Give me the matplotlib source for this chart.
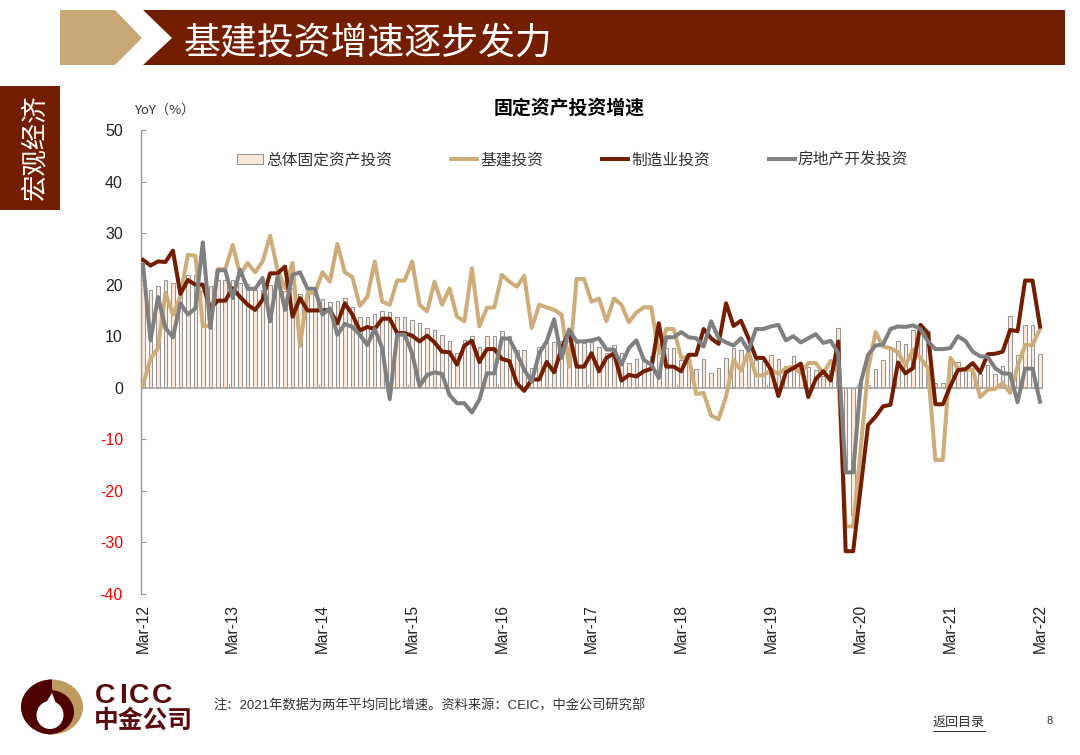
import matplotlib
matplotlib.use('Agg')
import matplotlib.pyplot as plt
from matplotlib.patches import Polygon, Rectangle, Ellipse

plt.rcParams['font.family'] = ['Liberation Sans', 'Noto Sans CJK SC', 'DejaVu Sans']
plt.rcParams['axes.unicode_minus'] = False

# Monthly series, Mar-12 to Mar-22
total_fai = [
    20.9, 18.9, 19.8, 20.9, 20.3, 19.7, 21.9, 21.9, 18.7, 19.7,
    21, 21, 20.9, 20.3, 20.2, 18.9, 19, 20, 19.7, 18.7,
    19.3, 18.2, 18, 17.9, 17.2, 16.6, 16.9, 17.4, 15.6, 13.7,
    13.7, 14.3, 14.9, 14.7, 13.7, 13.7, 13.2, 12.5, 11.5, 11.2,
    10.3, 9.1, 6.7, 9.3, 10, 7.9, 10.1, 10.1, 11.1, 10,
    7.4, 7.4, 3.8, 8, 8.8, 8.8, 9, 9, 8.7, 8.7,
    8.8, 8, 6.7, 8.3, 6.7, 4.8, 5.6, 5.1, 6.1, 6.7,
    7.7, 7.7, 5.4, 6, 3.6, 5.6, 2.8, 3.8, 5.8, 7.7,
    7.4, 7, 5.4, 5.1, 6.4, 5.6, 4.3, 6.2, 4.5, 4.1,
    3.5, 2.3, 3.5, 11.6, -16, -24.7, 0.9, 0.6, 3.7, 5.4,
    7.5, 9.1, 8.5, 11.3, 11.3, 11, 0.9, 0.9, 5.8, 5,
    3.2, 3.5, 2.7, 4.5, 2.7, 4.3, 14, 6.4, 12.1, 12.1, 6.5,
]
infrastructure = [
    0.6, 5.6, 7.7, 18.4, 14.2, 17.7, 25.8, 25.6, 12, 12,
    23, 23, 27.7, 21.9, 24.2, 22.4, 24.5, 29.5, 22.9, 19.3,
    24.2, 8.1, 18.4, 18.4, 22.4, 20.6, 27.9, 22.4, 21.5, 15.9,
    17.6, 24.5, 16.7, 16.1, 20.8, 20.8, 24.5, 16.1, 14.8, 20.6,
    16.1, 19.3, 13.8, 12.9, 23.2, 11.9, 15.5, 15.6, 21.9, 20.6,
    19.6, 21.7, 11.6, 16.1, 15.6, 15.1, 14.2, 4.1, 21.1, 21.1,
    16.7, 17.3, 12.9, 17.3, 16.1, 12.7, 14.6, 15.6, 15.6, 6.7,
    11.4, 11.4, 5.8, 6, -1.2, -1, -5.4, -6.1, -1.7, 5.4,
    3.3, 7, 2.4, 2.4, 3.5, 2.7, 3.8, 4.1, 2.8, 4.8,
    4.8, 2.8, 5.2, 2.8, -26.9, -26.9, -12, 3.5, 10.8, 8,
    7.7, 6.9, 4.3, 7.4, 5.8, 3.8, -14, -14, 5.8, 3.8,
    3.5, 3.5, -1.8, -0.4, -0.2, 0.9, -1, 4.1, 8.3, 8.3, 11.4,
]
manufacturing = [
    24.8, 23.7, 24.5, 24.4, 26.6, 18.2, 20.9, 20, 20, 15.4,
    16.9, 16.9, 19.3, 17.6, 16.1, 15.1, 17.1, 22.2, 22.2, 23.5,
    13.8, 17.4, 15, 15, 15, 15.1, 12.5, 16.4, 14.2, 11.1,
    11.8, 11.4, 13.4, 13.4, 10.6, 10.6, 10.1, 9, 10.1, 8.8,
    7, 6.9, 4.5, 8.2, 9.1, 5, 7.5, 7.5, 5.6, 5.2,
    0.9, -0.6, 1.6, 1.6, 5, 3, 7.7, 10.9, 4.1, 4.1,
    6.7, 3.2, 5.8, 6.7, 1.4, 2.5, 2.2, 3.2, 3.7, 12.5,
    4.1, 4.1, 3.2, 6.4, 6.4, 11.4, 9.6, 8.5, 16.4, 12,
    13, 9.6, 5.8, 5.8, 3.5, -1.6, 3, 3.8, 4.7, -1.8,
    1.7, 3.2, 1.4, 9, -31.7, -31.7, -19.5, -7.2, -5.6, -3.6,
    -3.3, 4.9, 2.8, 3.8, 12.2, 10.6, -3.2, -3.2, 0.3, 3.4,
    3.6, 4.8, 3, 6.5, 6.6, 7, 11.2, 11, 20.8, 20.8, 11.9,
]
property_dev = [
    23.9, 9.2, 17.6, 11.6, 9.8, 16.4, 14.2, 15.4, 28.2, 11.6,
    22.8, 22.8, 17.4, 22.9, 19.2, 19.2, 21.3, 12.9, 21.6, 15.1,
    21.9, 22.4, 19.2, 19.2, 14.2, 15.4, 10.3, 12.4, 11.8, 10.3,
    8.3, 11.4, 7.7, -2.2, 10.3, 10.3, 6.7, 0.3, 2.5, 3,
    2.7, -1.4, -3, -3, -4.8, -2.3, 2.8, 2.8, 9.6, 9.5,
    6.7, 3.5, 1.2, 6.7, 9, 13.3, 5.8, 11.3, 9, 9,
    9.2, 9.6, 7.4, 7.4, 4.5, 7.7, 9.2, 5.4, 4.5, 1.9,
    9.8, 9.8, 10.8, 9.8, 9.6, 8, 12.9, 9.6, 8.8, 8.2,
    9.6, 7.2, 11.4, 11.4, 11.9, 12.2, 9.2, 10, 8.8, 9.6,
    10.4, 8.7, 9.1, 6.7, -16.4, -16.4, 0.9, 6.4, 8.2, 8.4,
    11.4, 11.9, 11.8, 12.1, 11.4, 9, 7.5, 7.5, 7.7, 10,
    9.1, 7, 6.1, 6, 3.8, 2.8, 2.7, -2.8, 3.7, 3.7, -2.7,
]
year_labels = ['Mar-12', 'Mar-13', 'Mar-14', 'Mar-15', 'Mar-16', 'Mar-17',
               'Mar-18', 'Mar-19', 'Mar-20', 'Mar-21', 'Mar-22']
series_names = ['总体固定资产投资', '基建投资', '制造业投资', '房地产开发投资']

DARK_RED = '#731E00'
TAN = '#CFAD7B'
GRAY = '#808080'
W, H = 1080, 755

fig = plt.figure(figsize=(10.8, 7.55), dpi=100)

# slide furniture drawn in pixel coordinates
bg = fig.add_axes([0, 0, 1, 1])
bg.set_xlim(0, W)
bg.set_ylim(H, 0)
bg.axis('off')
bg.add_patch(Polygon([(60, 10), (115, 10), (142, 38), (115, 65), (60, 65)], color='#C9A877', lw=0))
bg.add_patch(Polygon([(143, 10), (1065, 10), (1065, 65), (143, 65), (172, 38)], color=DARK_RED, lw=0))
bg.text(184, 43, '基建投资增速逐步发力', color='white', fontsize=26.6, va='center', ha='left',
        family=['Noto Sans CJK SC'], fontweight='medium')
bg.add_patch(Rectangle((0, 86), 60, 124, color=DARK_RED, lw=0))
bg.text(35, 147, '宏观经济', color='white', fontsize=19, rotation=90, va='center', ha='center',
        family=['Noto Sans CJK SC'])

# logo
bg.add_patch(Ellipse((52, 707), 62, 55, color='#BF9A5F', lw=0))
left_half = Ellipse((52, 707), 62, 55, color='#4F0000', lw=0)
bg.add_patch(left_half)
left_half.set_clip_path(Rectangle((20, 675), 32, 65, transform=bg.transData))
bg.add_patch(Ellipse((50, 712), 48, 44, color='#4F0000', lw=0))
bg.add_patch(Ellipse((50, 715), 27, 28, color='white', lw=0))
bg.add_patch(Polygon([(44, 706), (52, 693), (57, 706)], color='white', lw=0))
for letter, letter_x in zip('CICC', [95, 119, 129, 152]):
    bg.text(letter_x, 696, letter, color='#5A0A0A', fontsize=20.5, fontweight='bold', va='center', ha='left')
bg.text(94, 720.5, '中金公司', color='#5A0A0A', fontsize=17.8, fontweight='bold', va='center', ha='left',
        family=['Noto Sans CJK SC'])

bg.text(213, 706, '注：2021年数据为两年平均同比增速。资料来源：CEIC，中金公司研究部', color='#333333',
        fontsize=9.5, va='center', ha='left')
bg.text(933, 723, '返回目录', color='#333333', fontsize=9.4, va='center', ha='left')
bg.plot([933, 985], [731, 731], color='#333333', lw=0.7)
bg.text(1050, 721, '8', color='#333333', fontsize=8, va='center', ha='center')
bg.text(134, 110, 'YoY（%）', color='#333333', fontsize=9.5, va='center', ha='left',
        family=['Noto Sans CJK SC'])
bg.text(569, 108, '固定资产投资增速', color='black', fontsize=13.6, fontweight='bold', va='center', ha='center',
        family=['Noto Sans CJK SC'])

# chart
ax = fig.add_axes([141 / W, 1 - 594 / H, (1043 - 141) / W, (594 - 130) / H])
ax.patch.set_alpha(0)
x = list(range(len(total_fai)))
bars = ax.bar(x, total_fai, width=0.47, color='#FDE9D9', edgecolor='#969696', linewidth=0.75,
              label=series_names[0], zorder=2)
l1, = ax.plot(x, infrastructure, color=TAN, lw=2.9, label=series_names[1], zorder=3)
l2, = ax.plot(x, manufacturing, color=DARK_RED, lw=2.9, label=series_names[2], zorder=4)
l3, = ax.plot(x, property_dev, color=GRAY, lw=2.9, label=series_names[3], zorder=5)

ax.set_xlim(-0.27, 120.4)
ax.set_ylim(-40, 50)
ax.set_yticks(range(-40, 51, 10))
ax.tick_params(axis='y', direction='in', length=3.5, width=0.8, color='#999999', labelsize=11.5, pad=13)
for lab, val in zip(ax.get_yticklabels(), ax.get_yticks()):
    lab.set_color('#F00000' if val < 0 else '#222222')

tick_pos = list(range(0, len(total_fai), 12))
ax.set_xticks(tick_pos)
ax.set_xticklabels(year_labels, rotation=90, fontsize=11.2, color='#222222')
ax.tick_params(axis='x', length=0, pad=7)
ax.axhline(0, color='#A6A6A6', lw=1.2, zorder=2.5)
ax.vlines([t - 0.5 for t in tick_pos[1:]], 0, 0.8, color='#A6A6A6', lw=0.8, zorder=2.5)

for side in ['top', 'right', 'bottom']:
    ax.spines[side].set_visible(False)
ax.spines['left'].set_color('#999999')
ax.spines['left'].set_linewidth(1.0)

leg = fig.legend(handles=[bars, l1, l2, l3], loc='center left', bbox_to_anchor=(237 / W, 1 - 160 / H),
                 ncol=4, frameon=False, fontsize=11.3, handlelength=1.65, handleheight=0.55,
                 handletextpad=0.2, columnspacing=3.76, borderpad=0, borderaxespad=0)
for t in leg.get_texts():
    t.set_color('#333333')

fig.savefig('out.png', dpi=100)
